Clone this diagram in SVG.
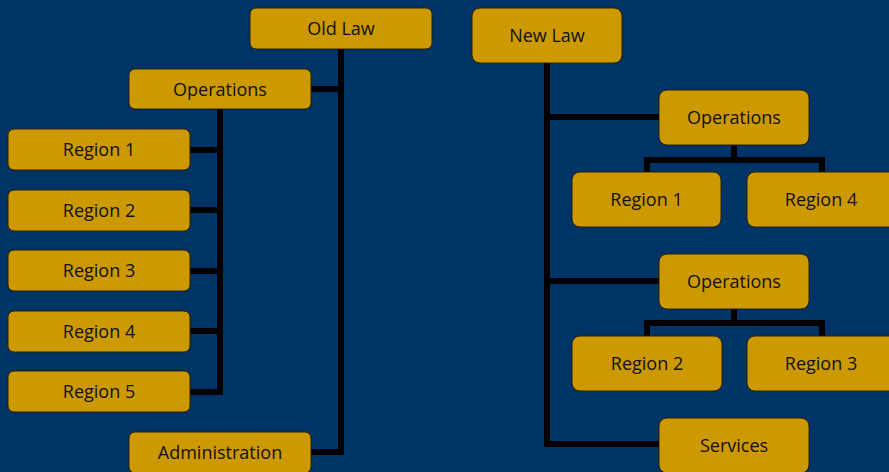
<svg xmlns="http://www.w3.org/2000/svg" width="889" height="472" viewBox="0 0 889 472">
<style>
.bx{fill:#CC9900;stroke:#2b2100;stroke-width:1}
.t{font-family:"Open Sans","Liberation Sans",sans-serif;font-size:18px;fill:#111;text-anchor:middle}
.c{stroke:#000;stroke-width:6;fill:none;stroke-linecap:butt;stroke-linejoin:miter}
</style>
<rect width="889" height="472" fill="#003366"/>
<g id="connectors">
<path class="c" d="M341 49V452H311M341 89H311"/>
<path class="c" d="M220 109V392H190M220 150H190M220 210H190M220 271H190M220 331H190"/>
<path class="c" d="M547 63V444H659M547 117H659M547 281H659"/>
<path class="c" d="M734 145V160M647 172V160H822V172"/>
<path class="c" d="M734 308V323M647 336V323H822V336"/>
</g>
<g id="old-law"><rect class="bx" x="250" y="8" width="182" height="41" rx="6"/><text class="t" x="341" y="35">Old Law</text></g>
<g id="old-operations"><rect class="bx" x="129" y="69" width="182" height="40" rx="6"/><text class="t" x="220" y="95.5">Operations</text></g>
<g id="old-region1"><rect class="bx" x="8" y="129" width="182" height="41" rx="6"/><text class="t" x="99" y="156">Region 1</text></g>
<g id="old-region2"><rect class="bx" x="8" y="190" width="182" height="41" rx="6"/><text class="t" x="99" y="217">Region 2</text></g>
<g id="old-region3"><rect class="bx" x="8" y="250" width="182" height="41" rx="6"/><text class="t" x="99" y="277">Region 3</text></g>
<g id="old-region4"><rect class="bx" x="8" y="311" width="182" height="41" rx="6"/><text class="t" x="99" y="338">Region 4</text></g>
<g id="old-region5"><rect class="bx" x="8" y="371" width="182" height="41" rx="6"/><text class="t" x="99" y="398">Region 5</text></g>
<g id="old-administration"><rect class="bx" x="129" y="432" width="182" height="41" rx="6"/><text class="t" x="220" y="459">Administration</text></g>
<g id="new-law"><rect class="bx" x="472" y="8" width="150" height="55" rx="8"/><text class="t" x="547" y="42">New Law</text></g>
<g id="new-operations1"><rect class="bx" x="659" y="90" width="150" height="55" rx="8"/><text class="t" x="734" y="124">Operations</text></g>
<g id="new-region1"><rect class="bx" x="572" y="172" width="149" height="55" rx="8"/><text class="t" x="646.5" y="206">Region 1</text></g>
<g id="new-region4"><rect class="bx" x="747" y="172" width="150" height="55" rx="8"/><text class="t" x="821" y="206">Region 4</text></g>
<g id="new-operations2"><rect class="bx" x="659" y="254" width="150" height="55" rx="8"/><text class="t" x="734" y="288">Operations</text></g>
<g id="new-region2"><rect class="bx" x="572" y="336" width="150" height="55" rx="8"/><text class="t" x="647" y="370">Region 2</text></g>
<g id="new-region3"><rect class="bx" x="747" y="336" width="150" height="55" rx="8"/><text class="t" x="821" y="370">Region 3</text></g>
<g id="new-services"><rect class="bx" x="659" y="418" width="150" height="55" rx="8"/><text class="t" x="734" y="452">Services</text></g>
</svg>
